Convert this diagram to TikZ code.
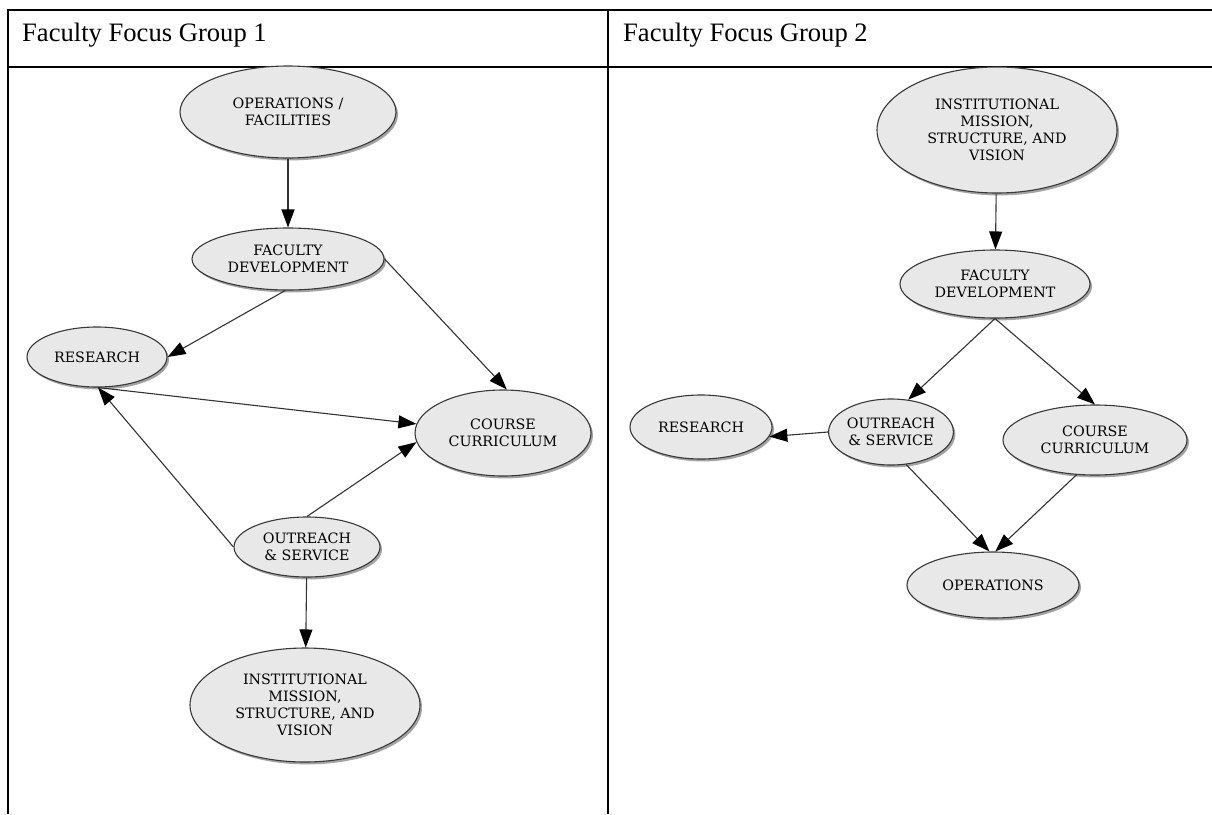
\documentclass[tikz,border=0pt]{standalone}
\usepackage{fontspec}
\setmainfont{Liberation Serif}
\newfontfamily\nodefont{DejaVu Serif}
\usetikzlibrary{arrows.meta,shapes.geometric,shadows}

\tikzset{
  rule/.style={line width=1.6pt, black},
  header/.style={anchor=base west, inner sep=0pt, font=\fontsize{26.6}{30}\selectfont},
  topic/.style={ellipse, draw=black!78, line width=1.1pt, fill=black!9,
    inner sep=0pt, align=center,
    font=\nodefont\fontsize{14.3}{17}\selectfont,
    drop shadow={shadow xshift=2pt, shadow yshift=-2.4pt, fill=black!45, opacity=0.8}},
  link/.style={draw=black!80, line width=1.1pt,
    -{Triangle[length=18pt,width=13pt,color=black]}},
}

\begin{document}
\begin{tikzpicture}[x=1pt,y=-1pt]
\useasboundingbox[fill=white] (0,0) rectangle (1212,814);

% table rules
\draw[rule] (7,10) -- (1212,10);
\draw[rule] (7,67) -- (1212,67);
\draw[rule] (8,9) -- (8,814);
\draw[rule] (608,9) -- (608,814);

% column headings
\node[header] (h1) at (22,41) {Faculty Focus Group 1};
\node[header] (h2) at (623,41) {Faculty Focus Group 2};

% ---- Faculty Focus Group 1 ----
\node[topic, minimum width=216, minimum height=92] (ops1) at (288,112) {OPERATIONS /\\FACILITIES};
\node[topic, minimum width=192, minimum height=62] (fd1) at (288,259) {FACULTY\\DEVELOPMENT};
\node[topic, minimum width=140, minimum height=60] (res1) at (97,357) {RESEARCH};
\node[topic, minimum width=176, minimum height=86] (cc1) at (503,433) {COURSE\\CURRICULUM};
\node[topic, minimum width=146, minimum height=60] (out1) at (307,547) {OUTREACH\\\& SERVICE};
\node[topic, minimum width=230, minimum height=114] (inst1) at (305,705) {INSTITUTIONAL\\MISSION,\\STRUCTURE, AND\\VISION};

\draw[link] (ops1) -- (fd1);
\draw[link] (fd1.-95) -- (res1.east);
\draw[link] (fd1.east) -- (cc1.85);
\draw[link] (res1.-88) -- (cc1.174);
\draw[link] (out1.west) -- (res1.-88);
\draw[link] (out1.north) -- (cc1.186);
\draw[link] (out1) -- (inst1);

% ---- Faculty Focus Group 2 ----
\node[topic, minimum width=240, minimum height=126] (inst2) at (997,130) {INSTITUTIONAL\\MISSION,\\STRUCTURE, AND\\VISION};
\node[topic, minimum width=190, minimum height=68] (fd2) at (995,284) {FACULTY\\DEVELOPMENT};
\node[topic, minimum width=142, minimum height=64] (res2) at (701,427) {RESEARCH};
\node[topic, minimum width=120, minimum height=66] (out2) at (891,432) {OUTREACH\\\& SERVICE};
\node[topic, minimum width=184, minimum height=70] (cc2) at (1095,440) {COURSE\\CURRICULUM};
\node[topic, minimum width=172, minimum height=66] (ops2) at (993,585) {OPERATIONS};

\draw[link] (inst2) -- (fd2);
\draw[link] (fd2.south) -- (out2.62);
\draw[link] (fd2.south) -- (cc2.north);
\draw[link] (out2.west) -- (res2.-8);
\draw[link] (out2.-65) -- (ops2.96);
\draw[link] (cc2.-118) -- (ops2.86);
\end{tikzpicture}
\end{document}
